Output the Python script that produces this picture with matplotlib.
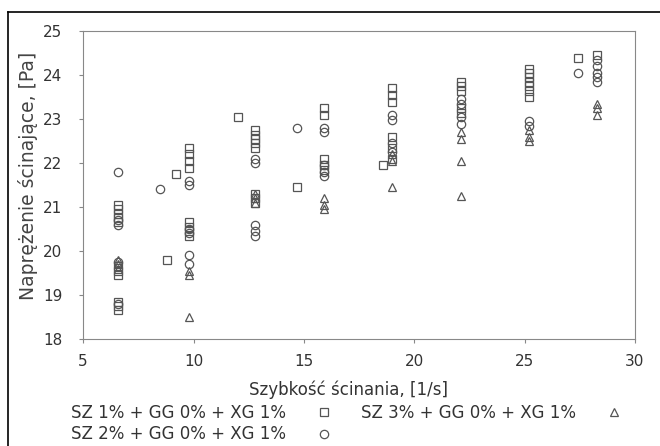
import numpy as np
import matplotlib
matplotlib.use('Agg')
from matplotlib import pyplot as plt
from matplotlib.lines import Line2D

# SZ 1% + GG 0% + XG 1%  (squares)
sz1_x = [6.6]*11 + [8.8, 9.2] + [9.8]*8 + [12.0] + [12.8]*8 + [14.7] + [15.9]*5 + [18.6] + [19.0]*6 + [22.1]*5 + [25.2]*7 + [27.4, 28.3]
sz1_y = [21.05, 20.95, 20.85, 20.75, 20.65, 19.65, 19.55, 19.45, 18.85, 18.75, 18.65,
         19.8, 21.75,
         22.35, 22.2, 22.05, 21.9, 20.65, 20.55, 20.45, 20.35,
         23.05,
         22.75, 22.65, 22.55, 22.45, 22.35, 21.3, 21.2, 21.1,
         21.45,
         23.25, 23.1, 22.1, 21.95, 21.85,
         21.95,
         23.7, 23.55, 23.4, 22.6, 22.35, 22.1,
         23.85, 23.75, 23.65, 23.25, 23.15,
         24.15, 24.05, 23.95, 23.85, 23.75, 23.65, 23.5,
         24.4, 24.45]

# SZ 2% + GG 0% + XG 1%  (circles)
sz2_x = [6.6]*5 + [8.5] + [9.8]*6 + [12.8]*5 + [14.7] + [15.9]*5 + [19.0]*4 + [22.1]*4 + [25.2]*2 + [27.4] + [28.3]*5
sz2_y = [21.8, 20.7, 20.6, 19.75, 18.8,
         21.4,
         21.6, 21.5, 20.5, 20.4, 19.9, 19.7,
         22.1, 22.0, 20.6, 20.45, 20.35,
         22.8,
         22.8, 22.7, 21.95, 21.8, 21.7,
         23.1, 22.98, 22.45, 22.25,
         23.45, 23.35, 23.05, 22.9,
         22.95, 22.85,
         24.05,
         24.35, 24.2, 24.05, 23.95, 23.85]

# SZ 3% + GG 0% + XG 1%  (triangles)
sz3_x = [6.6]*3 + [9.8]*3 + [12.8]*3 + [15.9]*3 + [19.0]*3 + [22.1]*4 + [25.2]*3 + [28.3]*3
sz3_y = [19.8, 19.7, 19.6,
         19.55, 19.45, 18.5,
         21.3, 21.2, 21.1,
         21.2, 21.05, 20.95,
         22.2, 22.05, 21.45,
         22.7, 22.55, 22.05, 21.25,
         22.75, 22.6, 22.5,
         23.35, 23.25, 23.1]

labels = ['SZ 1% + GG 0% + XG 1%', 'SZ 2% + GG 0% + XG 1%', 'SZ 3% + GG 0% + XG 1%']

plt.rcParams['font.family'] = 'DejaVu Sans'
fig = plt.figure(figsize=(6.6, 4.46), dpi=100)
ax = fig.add_axes([0.126, 0.24, 0.836, 0.69])

mk = dict(linestyle='none', markerfacecolor='none', markeredgecolor='#555555',
          markersize=6, markeredgewidth=0.9)
ax.plot(sz1_x, sz1_y, marker='s', label=labels[0], **mk)
ax.plot(sz2_x, sz2_y, marker='o', label=labels[1], **mk)
ax.plot(sz3_x, sz3_y, marker='^', label=labels[2], **mk)

ax.set_xlim(5, 30)
ax.set_ylim(18, 25)
ax.set_xticks([5, 10, 15, 20, 25, 30])
ax.set_yticks(np.arange(18, 26, 1))
for s in ax.spines.values():
    s.set_color('#888888')
ax.tick_params(colors='#888888', labelcolor='#333333', labelsize=11, length=3)
ax.tick_params(axis='x', pad=8)
ax.tick_params(axis='y', pad=12)
ax.set_xlabel('Szybkość ścinania, [1/s]', fontsize=12, color='#333333', labelpad=6)
ax.xaxis.set_label_coords(0.48, -0.135)
ax.set_ylabel('Naprężenie ścinające, [Pa]', fontsize=13.5, color='#444444')
ax.yaxis.set_label_coords(-0.082, 0.53)

fig.legend(loc='lower left', bbox_to_anchor=(0.085, -0.028), ncol=2, markerfirst=False,
           frameon=False, fontsize=12, labelspacing=0.2, columnspacing=1.2,
           handletextpad=1.3, labelcolor='#333333')

# border of the cut-out figure (top and left only)
fig.add_artist(Line2D([0.012, 1.0], [0.973, 0.973], color='black', lw=1.2, transform=fig.transFigure))
fig.add_artist(Line2D([0.012, 0.012], [0.0, 0.973], color='black', lw=1.2, transform=fig.transFigure))

fig.savefig('out.png', dpi=100)
